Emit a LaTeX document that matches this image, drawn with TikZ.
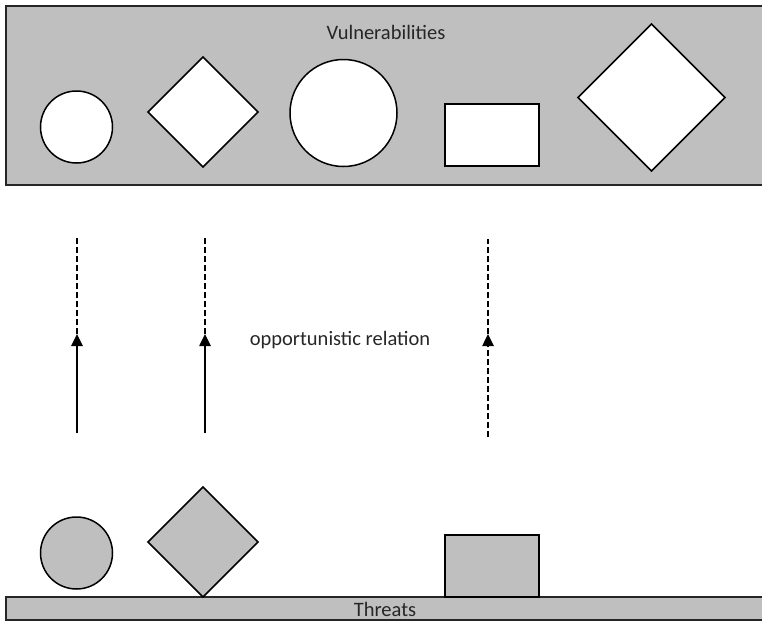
\documentclass[tikz,border=0pt]{standalone}
\usepackage{fontspec}
\setmainfont{Carlito}
\usetikzlibrary{shapes.geometric,arrows.meta}
\definecolor{panel}{HTML}{BFBFBF}
\begin{document}
\begin{tikzpicture}[x=1pt,y=-1pt,
  band/.style={draw=black!85,line width=1.6pt,fill=panel},
  shp/.style={draw=black,line width=1.5pt,inner sep=0pt,outer sep=0pt},
  roundshape/.style={shp,circle},
  diamondshape/.style={shp,diamond,aspect=1},
  boxshape/.style={shp,rectangle},
  lbl/.style={font=\fontsize{20.5}{24}\selectfont,text=black!85},
  link/.style={line width=2.5pt,-{Triangle[length=12pt,width=11pt]}},
  tail/.style={line width=2.5pt,dash pattern=on 6pt off 3pt}]
\useasboundingbox (0,0) rectangle (762,621);
% upper panel
\draw[band] (6,6) rectangle (764,185);
\node[lbl] (vul) at (386,32) {Vulnerabilities};
\node[roundshape,fill=white,minimum size=72pt] (v1) at (76.5,127) {};
\node[diamondshape,fill=white,minimum size=110pt] (v2) at (203,112) {};
\node[roundshape,fill=white,minimum size=107pt] (v3) at (343.5,113) {};
\node[boxshape,fill=white,minimum width=94pt,minimum height=62pt] (v4) at (492,135) {};
\node[diamondshape,fill=white,minimum size=147pt] (v5) at (651.5,97.5) {};
% lower panel
\draw[band] (6,597) rectangle (764,620);
\node[lbl] (thr) at (385,609) {Threats};
\node[roundshape,fill=panel,minimum size=72pt] (t1) at (76.5,553) {};
\node[diamondshape,fill=panel,minimum size=110pt] (t2) at (203,542) {};
\node[boxshape,fill=panel,minimum width=94pt,minimum height=62pt] (t4) at (492,566) {};
% relations
\node[lbl] (rel) at (340,340) {opportunistic relation};
\coordinate (a1) at (77,433); \coordinate (m1) at (77,334); \coordinate (e1) at (77,237);
\coordinate (a2) at (205,433); \coordinate (m2) at (205,334); \coordinate (e2) at (205,237);
\coordinate (a3) at (488,437); \coordinate (m3) at (488,334); \coordinate (e3) at (488,239);
\draw[link] (a1) -- (m1);
\draw[tail] (m1) -- (e1);
\draw[link] (a2) -- (m2);
\draw[tail] (m2) -- (e2);
\draw[link,dash pattern=on 6pt off 3pt] (a3) -- (m3);
\draw[tail] (m3) -- (e3);
\end{tikzpicture}
\end{document}
